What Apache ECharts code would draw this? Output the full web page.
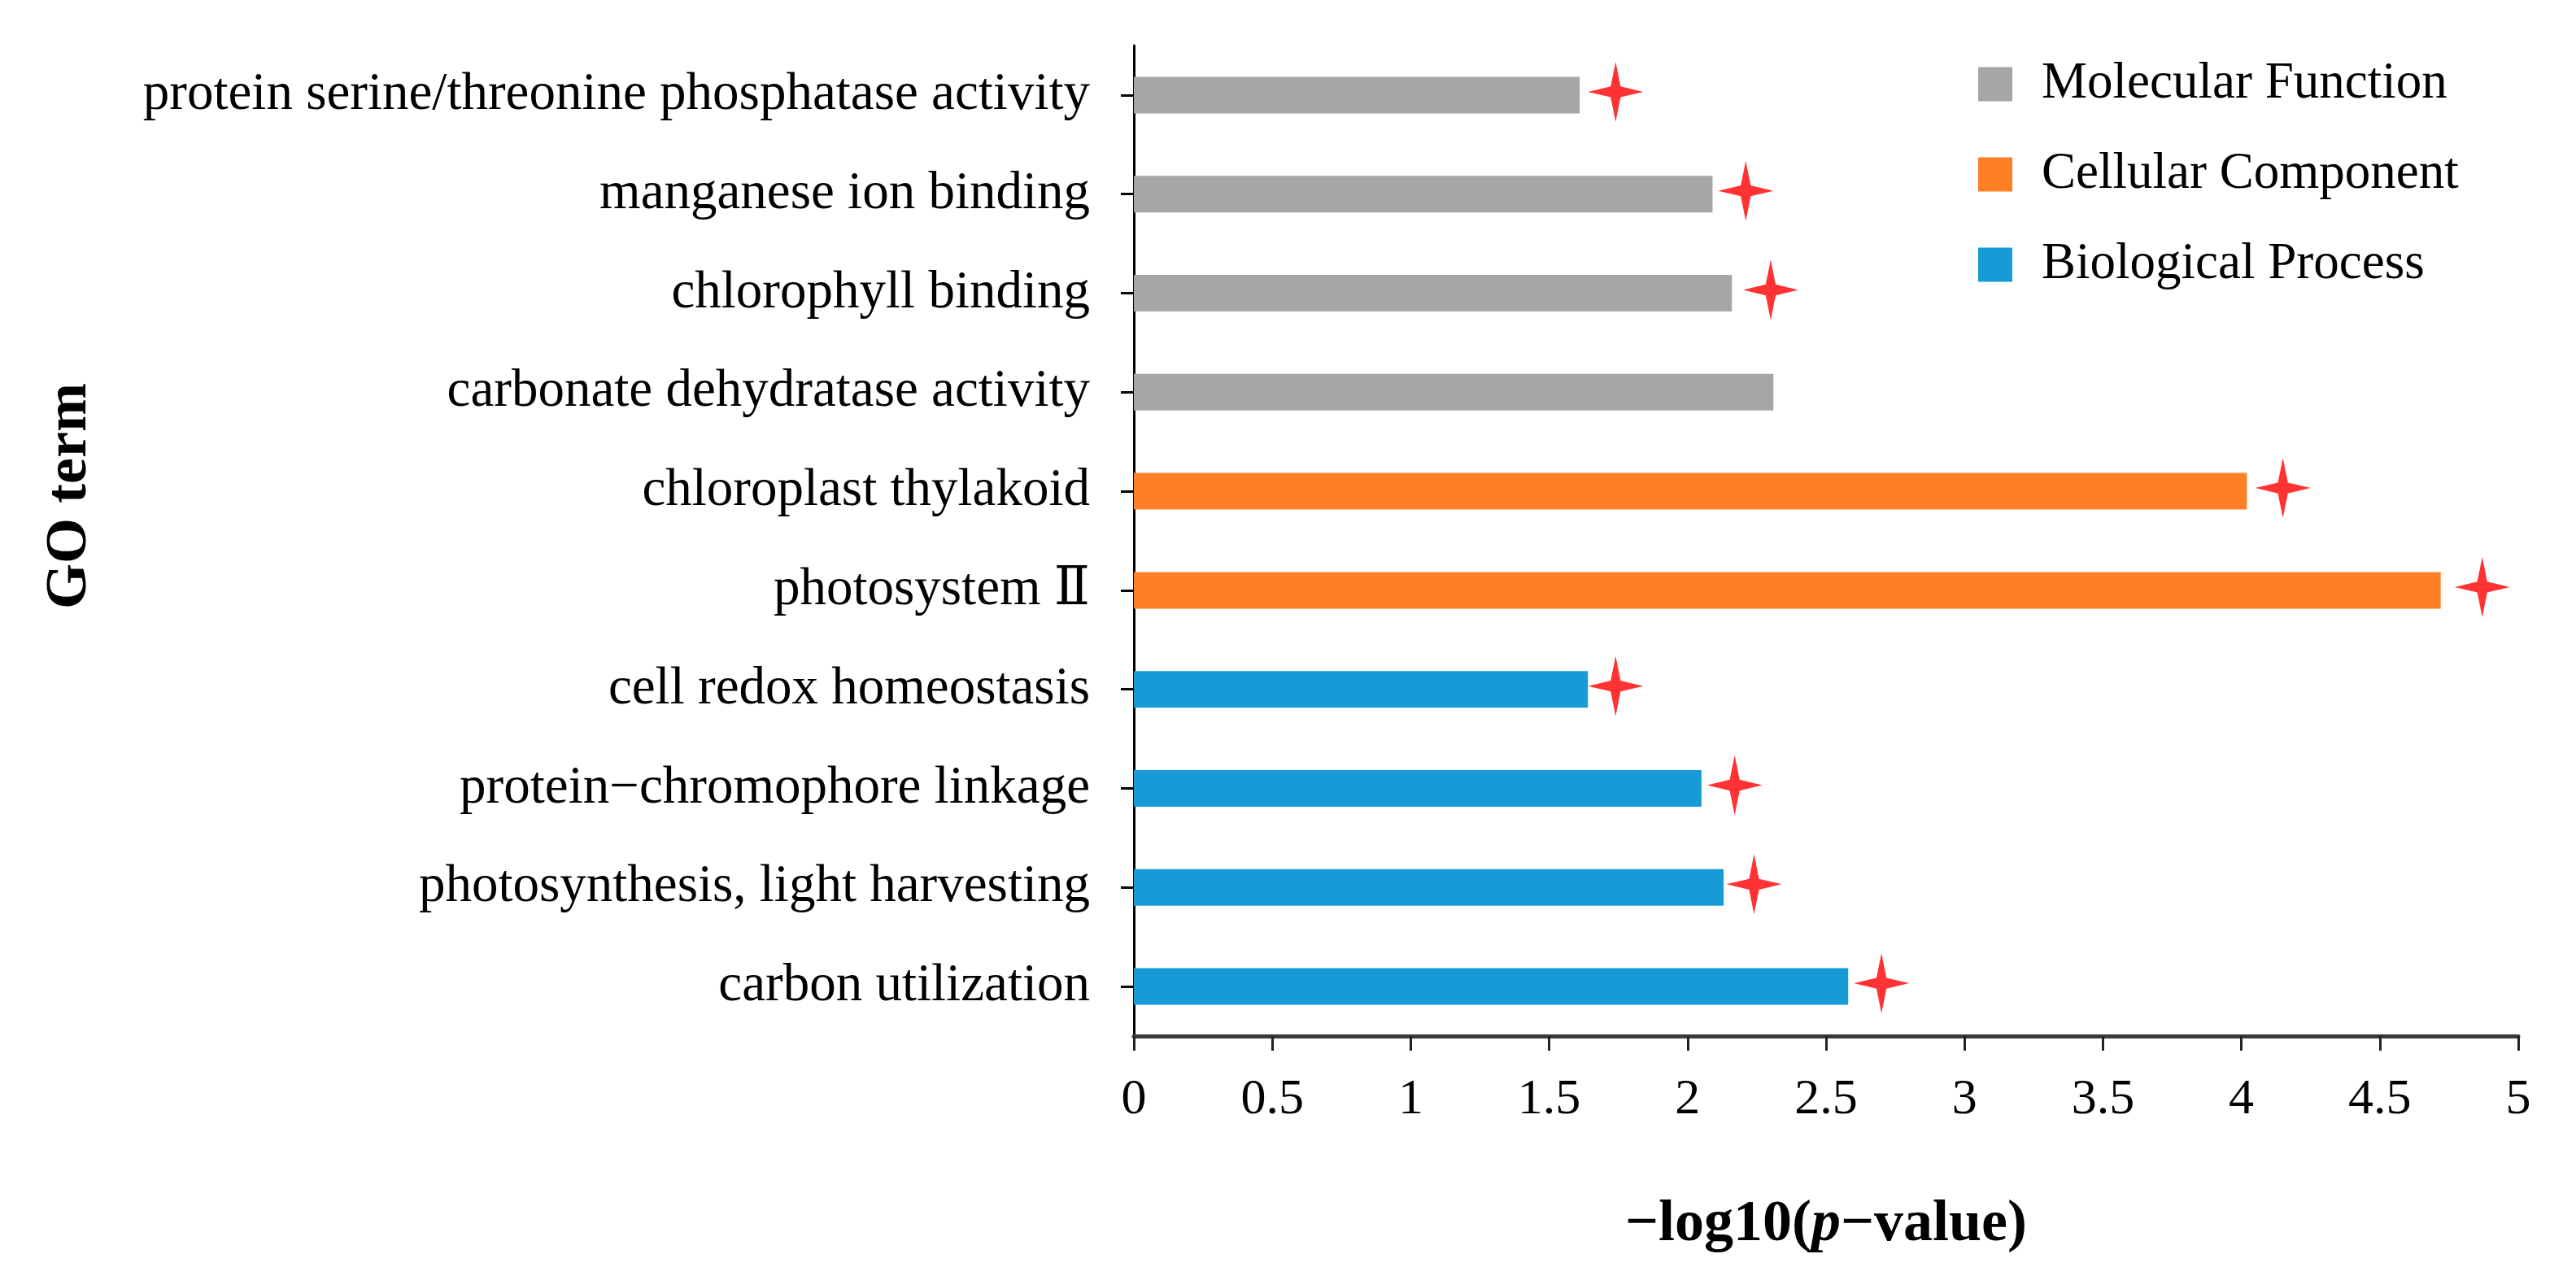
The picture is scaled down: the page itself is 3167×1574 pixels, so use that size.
<!DOCTYPE html>
<html>
<head>
<meta charset="utf-8">
<script src="https://cdn.jsdelivr.net/npm/echarts@6/dist/echarts.min.js"></script>
<style>
html,body{margin:0;padding:0;background:#fff;}
#chart{width:3167px;height:1574px;}
</style>
</head>
<body>
<div id="chart"></div>
<script>
// GO terms, top to bottom
var categories = [
  'protein serine/threonine phosphatase activity',
  'manganese ion binding',
  'chlorophyll binding',
  'carbonate dehydratase activity',
  'chloroplast thylakoid',
  'photosystem \u2161',
  'cell redox homeostasis',
  'protein\u2212chromophore linkage',
  'photosynthesis, light harvesting',
  'carbon utilization'
];
// -log10(p-value) per group
var molecularFunction = [1.61, 2.09, 2.16, 2.31, null, null, null, null, null, null];
var cellularComponent = [null, null, null, null, 4.02, 4.72, null, null, null, null];
var biologicalProcess = [null, null, null, null, null, null, 1.64, 2.05, 2.13, 2.58];
// significance star positions (x) per term
var starX = [1.74, 2.21, 2.30, null, 4.15, 4.87, 1.74, 2.17, 2.24, 2.70];
var xTicks = ['0', '0.5', '1', '1.5', '2', '2.5', '3', '3.5', '4', '4.5', '5'];
var seriesNames = ['Molecular Function', 'Cellular Component', 'Biological Process'];

var FONT = '"Liberation Serif", "DejaVu Serif", "Times New Roman", serif';
var colors = ['#A6A6A6', '#FF7F27', '#179BD7'];

var starData = [];
for (var i = 0; i < categories.length; i++) {
  if (starX[i] != null) starData.push([starX[i], categories[i]]);
}

var chart = echarts.init(document.getElementById('chart'));
var option = {
  animation: false,
  backgroundColor: '#ffffff',
  grid: { left: 1394, right: 71, top: 56, bottom: 300, containLabel: false },
  legend: {
    data: seriesNames,
    orient: 'vertical',
    left: 2427,
    top: 67,
    itemWidth: 42,
    itemHeight: 42,
    itemGap: 48,
    icon: 'rect',
    textStyle: { fontFamily: FONT, fontSize: 63, color: '#000', padding: [0, 0, 0, 31] }
  },
  xAxis: {
    type: 'value',
    min: 0,
    max: 5,
    interval: 0.5,
    splitLine: { show: false },
    axisLine: { show: true, lineStyle: { color: '#3a3a3a', width: 5 } },
    axisTick: { show: true, length: 18, lineStyle: { color: '#222', width: 3 } },
    axisLabel: {
      margin: 48,
      fontFamily: FONT, fontSize: 62, color: '#000',
      formatter: function (v) {
        var idx = Math.round(v / 0.5);
        return xTicks[idx] != null ? xTicks[idx] : '';
      }
    },
    name: '\u2212log10({it|p}\u2212value)',
    nameLocation: 'middle',
    nameGap: 196,
    nameTextStyle: {
      fontFamily: FONT, fontSize: 72, fontWeight: 'bold', color: '#000',
      rich: { it: { fontFamily: FONT, fontSize: 72, fontWeight: 'bold', fontStyle: 'italic', color: '#000' } }
    }
  },
  yAxis: {
    type: 'category',
    data: categories,
    inverse: true,
    axisLine: { show: true, lineStyle: { color: '#000', width: 3 } },
    axisTick: { show: true, alignWithLabel: true, length: 16, lineStyle: { color: '#000', width: 3 } },
    axisLabel: { margin: 54, fontFamily: FONT, fontSize: 65, color: '#000' },
    name: 'GO term',
    nameLocation: 'middle',
    nameGap: 1272,
    nameTextStyle: {
      fontFamily: FONT, fontSize: 72, fontWeight: 'bold', color: '#000',
      padding: [0, 0, 0, 110]
    }
  },
  series: [
    { name: seriesNames[0], type: 'bar', data: molecularFunction, barWidth: 45, barGap: '-100%',
      itemStyle: { color: colors[0] } },
    { name: seriesNames[1], type: 'bar', data: cellularComponent, barWidth: 45, barGap: '-100%',
      itemStyle: { color: colors[1] } },
    { name: seriesNames[2], type: 'bar', data: biologicalProcess, barWidth: 45, barGap: '-100%',
      itemStyle: { color: colors[2] } },
    { name: 'significance', type: 'scatter', data: starData, z: 5,
      symbol: 'path://M50,0 L59,41 L100,50 L59,59 L50,100 L41,59 L0,50 L41,41 Z',
      symbolSize: [68, 74], symbolOffset: [0, -4],
      itemStyle: { color: '#FF0000' } }
  ]
};
chart.setOption(option);
</script>
</body>
</html>
